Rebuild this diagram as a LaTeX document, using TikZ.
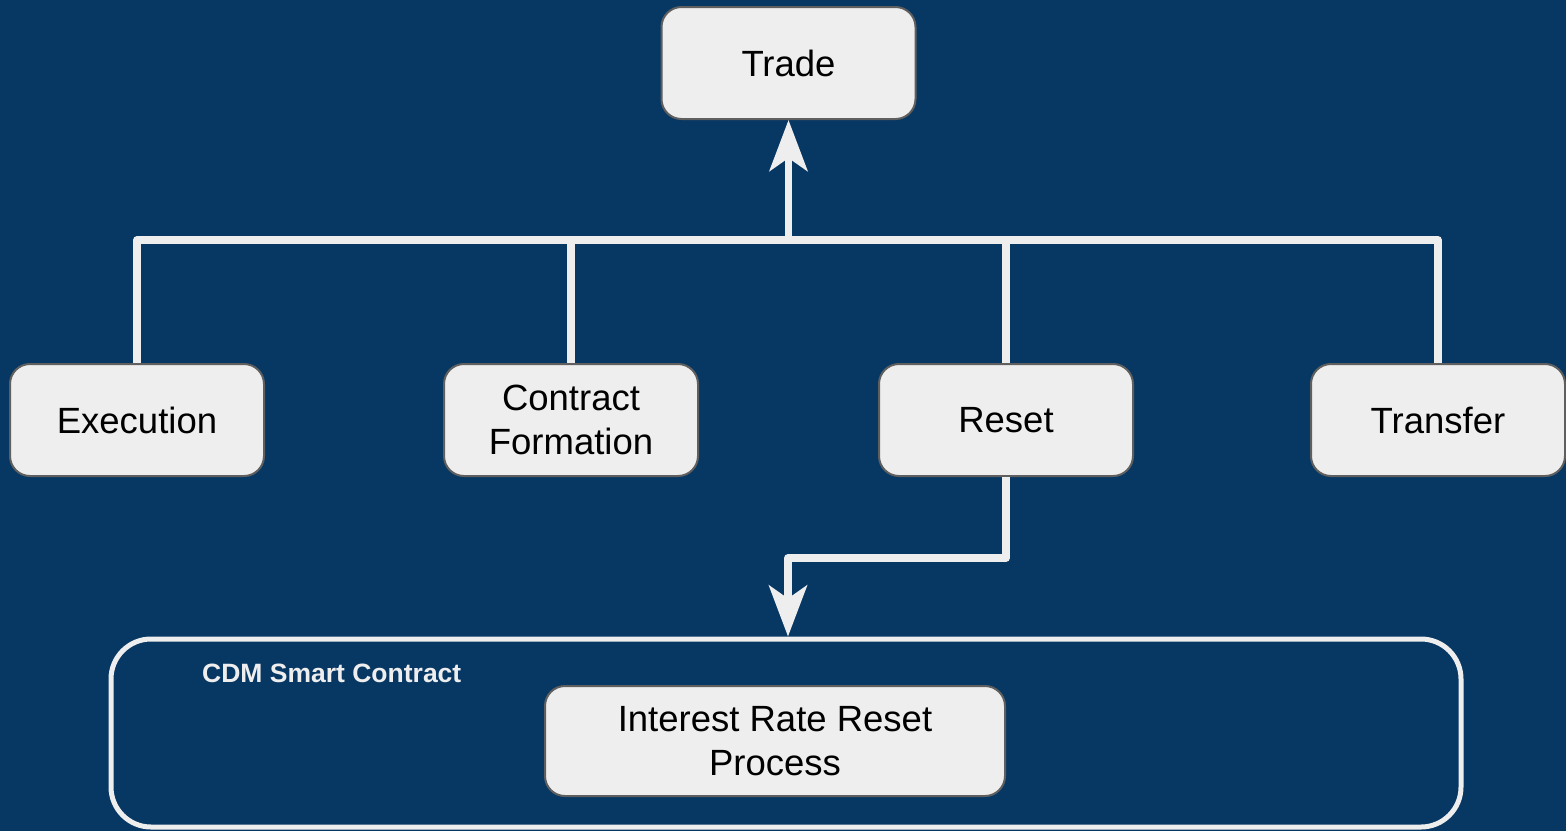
\documentclass[tikz,border=0pt]{standalone}
\usepackage{fontspec}
\setmainfont{Liberation Sans}
\usetikzlibrary{arrows.meta}
\definecolor{bgblue}{HTML}{073763}
\definecolor{boxfill}{HTML}{EEEEEE}
\definecolor{boxline}{HTML}{5F5F5F}
\definecolor{linecol}{HTML}{EEEEEE}
\begin{document}
\begin{tikzpicture}[x=1pt,y=-1pt,
  box/.style={draw=boxline,line width=2pt,fill=boxfill,rounded corners=20pt,
    minimum width=254pt,minimum height=112pt,align=center,text=black,
    font=\fontsize{36.5}{43.5}\selectfont,inner sep=0pt},
  conn/.style={draw=linecol,line width=7.5pt,line join=round},
  tip/.style={-{Stealth[length=51pt,width=38pt,inset=13pt]}}
]
\fill[bgblue] (0,0) rectangle (1566,831);
\useasboundingbox (0,0) rectangle (1566,831);

\node[box] (trade) at (788.5,63) {Trade};
\node[box] (exec) at (137,420) {Execution};
\node[box] (cf) at (571,420) {Contract\\Formation};
\node[box] (reset) at (1006,420) {Reset};
\node[box] (trans) at (1438,420) {Transfer};

\node[draw=linecol,line width=5pt,rounded corners=40pt,minimum width=1350pt,
  minimum height=188pt,inner sep=0pt] (cdm) at (786,733) {};
\node[text=linecol,font=\bfseries\fontsize{26.5}{30}\selectfont,anchor=west,inner sep=0pt]
  (cdmlabel) at (202,673) {CDM Smart Contract};
\node[box,minimum width=460pt,minimum height=110pt] (irr) at (775,741)
  {Interest Rate Reset\\Process};

\coordinate (bus) at (788.5,240);
\coordinate (bend) at (788,558);

\draw[conn] (exec.north) |- (bus) -| (trans.north);
\draw[conn] (cf.north) -- (cf.north |- bus);
\draw[conn] (reset.north) -- (reset.north |- bus);
\draw[conn,tip] (bus) -- (trade.south);
\draw[conn,tip] (reset.south) |- (bend) -- (bend |- cdm.north);
\end{tikzpicture}
\end{document}
